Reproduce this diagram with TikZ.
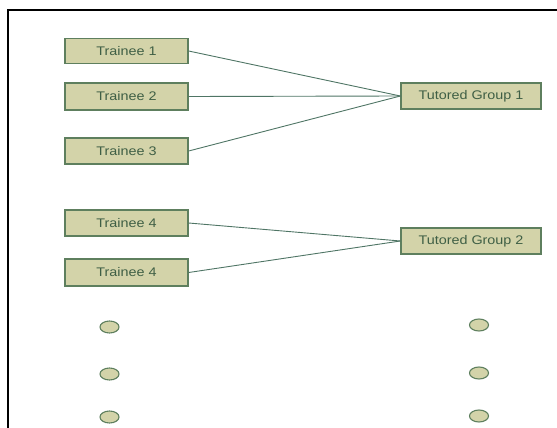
\documentclass[tikz,border=0pt]{standalone}
\usepackage{fontspec}
\usetikzlibrary{shapes.geometric}
\setmainfont{Liberation Sans}[FakeStretch=1.15]
\definecolor{boxfill}{HTML}{D3D3A9}
\definecolor{boxdraw}{HTML}{5E7F5E}
\definecolor{boxtext}{HTML}{3F5F45}
\definecolor{linkcol}{HTML}{4F7565}
\begin{document}
\begin{tikzpicture}[x=1pt,y=-1pt,
  stepbox/.style={draw=boxdraw,fill=boxfill,line width=1.3pt,rectangle,inner sep=0pt,
    text=boxtext,font=\fontsize{12.5}{14}\selectfont},
  dotshape/.style={draw=boxdraw,fill=boxfill,line width=1.1pt,ellipse,minimum width=19pt,minimum height=12pt,inner sep=0pt},
  link/.style={draw=linkcol,line width=0.9pt}]
\useasboundingbox (0,0) rectangle (557,428);
\draw[line width=2pt,black] (8,440) -- (8,10) -- (570,10);
\node[stepbox,minimum width=123pt,minimum height=25pt] (t1) at (126.5,51) {Trainee 1};
\node[stepbox,minimum width=123pt,minimum height=27pt] (t2) at (126.5,96.5) {Trainee 2};
\node[stepbox,minimum width=123pt,minimum height=26pt] (t3) at (126.5,151) {Trainee 3};
\node[stepbox,minimum width=123pt,minimum height=26pt] (t4) at (126.5,223) {Trainee 4};
\node[stepbox,minimum width=123pt,minimum height=27pt] (t5) at (126.5,272.5) {Trainee 4};
\node[stepbox,minimum width=140pt,minimum height=26pt] (g1) at (471,96) {Tutored Group 1};
\node[stepbox,minimum width=140pt,minimum height=26pt] (g2) at (471,241) {Tutored Group 2};
\draw[link] (t1.east) -- (g1.west);
\draw[link] (t2.east) -- (g1.west);
\draw[link] (t3.east) -- (g1.west);
\draw[link] (t4.east) -- (g2.west);
\draw[link] (t5.east) -- (g2.west);
\node[dotshape] (l1) at (109.5,327) {};
\node[dotshape] (l2) at (109.5,374) {};
\node[dotshape] (l3) at (109.5,417) {};
\node[dotshape] (r1) at (479,325) {};
\node[dotshape] (r2) at (479,373) {};
\node[dotshape] (r3) at (479,416) {};
\end{tikzpicture}
\end{document}
